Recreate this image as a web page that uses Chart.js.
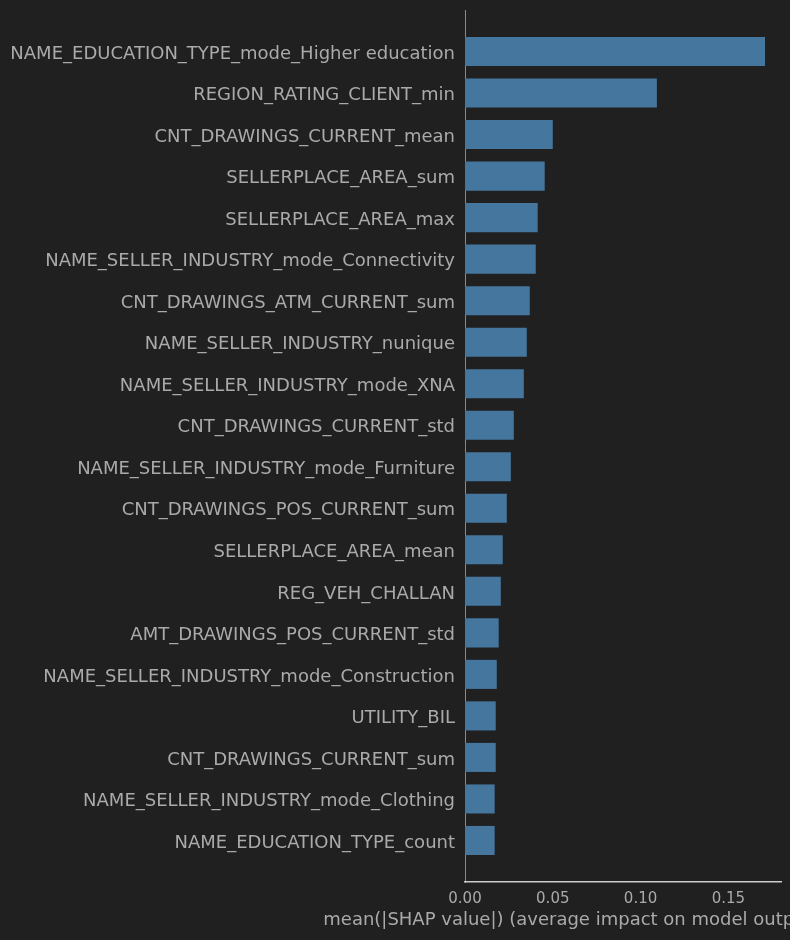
<!DOCTYPE html>
<html>
<head>
<meta charset="utf-8">
<script src="https://cdn.jsdelivr.net/npm/chart.js@4/dist/chart.umd.min.js"></script>
<style>
  html, body { margin: 0; padding: 0; background: #202020; }
  #wrap { width: 790px; height: 940px; }
</style>
</head>
<body>
<div id="wrap"><canvas id="c" width="790" height="940"></canvas></div>
<script>
const featureNames = [
  "NAME_EDUCATION_TYPE_mode_Higher education",
  "REGION_RATING_CLIENT_min",
  "CNT_DRAWINGS_CURRENT_mean",
  "SELLERPLACE_AREA_sum",
  "SELLERPLACE_AREA_max",
  "NAME_SELLER_INDUSTRY_mode_Connectivity",
  "CNT_DRAWINGS_ATM_CURRENT_sum",
  "NAME_SELLER_INDUSTRY_nunique",
  "NAME_SELLER_INDUSTRY_mode_XNA",
  "CNT_DRAWINGS_CURRENT_std",
  "NAME_SELLER_INDUSTRY_mode_Furniture",
  "CNT_DRAWINGS_POS_CURRENT_sum",
  "SELLERPLACE_AREA_mean",
  "REG_VEH_CHALLAN",
  "AMT_DRAWINGS_POS_CURRENT_std",
  "NAME_SELLER_INDUSTRY_mode_Construction",
  "UTILITY_BIL",
  "CNT_DRAWINGS_CURRENT_sum",
  "NAME_SELLER_INDUSTRY_mode_Clothing",
  "NAME_EDUCATION_TYPE_count"
];
const meanAbsShap = [
  0.1709, 0.1093, 0.0500, 0.0454, 0.0414, 0.0403, 0.0369, 0.0352, 0.0335, 0.0278,
  0.0261, 0.0238, 0.0215, 0.0204, 0.0192, 0.0181, 0.0175, 0.0175, 0.0169, 0.0169
];
const xTickValues = [0.00, 0.05, 0.10, 0.15];
const xAxisTitle = "mean(|SHAP value|) (average impact on model output magnitude)";

const FONT = "'DejaVu Sans', sans-serif";
const TEXT = "#aaaaaa";

// Draws the x-axis title unsqueezed (matplotlib lets it run off the figure edge)
const axisTitlePlugin = {
  id: 'axisTitle',
  afterDraw(chart) {
    const x = chart.scales.x;
    const ctx = chart.ctx;
    ctx.save();
    ctx.font = "18px " + FONT;
    ctx.fillStyle = TEXT;
    ctx.textAlign = 'center';
    ctx.textBaseline = 'middle';
    ctx.fillText(xAxisTitle, (x.left + x.right) / 2, x.top + 38);
    ctx.restore();
  }
};

new Chart(document.getElementById('c'), {
  type: 'bar',
  data: {
    datasets: [{
      data: meanAbsShap.map((v, i) => ({ x: v, y: i })),
      backgroundColor: '#45769e',
      borderWidth: 0,
      categoryPercentage: 1.0,
      barPercentage: 0.7
    }]
  },
  plugins: [axisTitlePlugin],
  options: {
    indexAxis: 'y',
    responsive: false,
    animation: false,
    layout: { padding: { top: 10, right: 9, left: 0, bottom: 0 } },
    plugins: { legend: { display: false }, tooltip: { enabled: false } },
    scales: {
      y: {
        type: 'linear',
        reverse: true,
        offset: false,
        min: -1,
        max: 20,
        afterFit: (s) => { s.width = 465; s.paddingTop = 0; s.paddingBottom = 0; },
        afterBuildTicks: (s) => { s.ticks = featureNames.map((_, i) => ({ value: i })); },
        ticks: {
          autoSkip: false,
          padding: 10,
          labelOffset: 2.5,
          color: TEXT,
          font: { family: FONT, size: 18 },
          callback: (v) => featureNames[v] ?? ''
        },
        grid: { display: false, drawTicks: false, offset: false },
        border: { display: true, color: '#8a8a8a', width: 1 }
      },
      x: {
        type: 'linear',
        min: 0,
        max: 0.18,
        afterFit: (s) => { s.height = 58; s.paddingLeft = 0; s.paddingRight = 0; },
        afterBuildTicks: (s) => { s.ticks = xTickValues.map(v => ({ value: v })); },
        ticks: {
          padding: 8,
          color: TEXT,
          font: { family: FONT, size: 15 },
          callback: (v) => Number(v).toFixed(2)
        },
        grid: { display: false, drawTicks: false },
        border: { display: true, color: '#cccccc', width: 1.5 },
        title: { display: false }
      }
    }
  }
});
</script>
</body>
</html>
